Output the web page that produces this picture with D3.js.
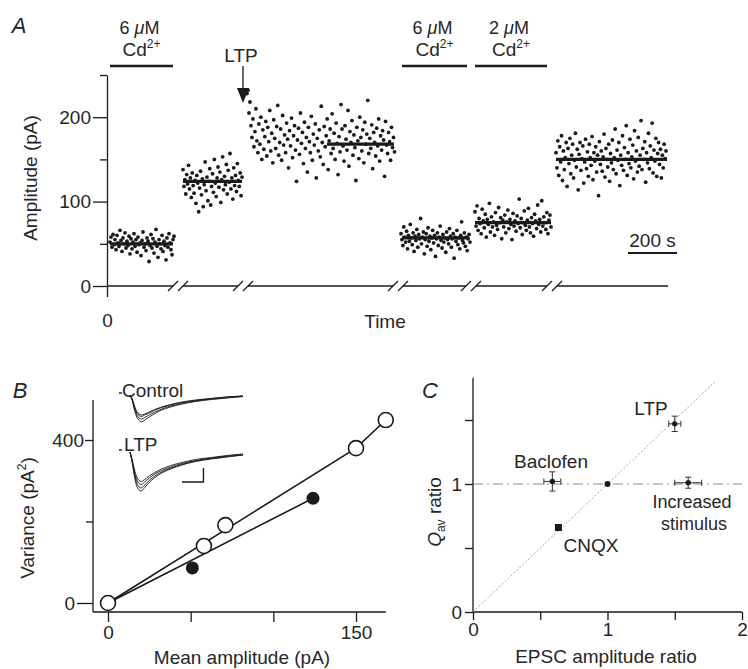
<!DOCTYPE html>
<html>
<head>
<meta charset="utf-8">
<script src="https://cdn.jsdelivr.net/npm/d3@7"></script>
<style>
  body { margin: 0; background: #fff; }
  svg { font-family: "Liberation Sans", Arial, sans-serif; }
</style>
</head>
<body>
<svg id="fig" width="748" height="669"></svg>
<script>
// ---- Panel A: EPSC amplitude against (broken) time ----
// time is in "display seconds" along the broken axis
const segStart  = [12, 304, 560, 1176, 1472, 1796];
const segEnd    = [268, 540, 1150, 1452, 1776, 2236];
const meanLevel = [50, 124, 168, 57, 75, 150];
const meanFrom  = [12, 304, 880, 1180, 1472, 1796];
const meanTo    = [264, 540, 1148, 1448, 1776, 2240];
const breakAt   = [284, 544, 1164, 1456, 1780];
const drugFrom  = [12, 1180, 1472];
const drugTo    = [264, 1440, 1760];
const drugConc  = ['6', '6', '2'];
const ltpAt     = 544;
const yTicksA   = [0, 100, 200];
const yMinorA   = [50, 150, 250];

const amp1 = [52,58,46,61,49,55,43,60,51,47,66,54,41,57,50,63,45,53,48,59,38,56,44,52,62,47,55,40,58,49,51,36,54,64,46,50,42,57,53,29,48,61,45,56,39,52,67,47,34,55,50,44,60,41,53,48,31,57,46,62,51,43,37,55,59];
const amp2 = [138,118,126,109,132,121,143,115,128,105,134,119,110,125,98,131,122,88,116,136,108,127,94,120,147,113,129,101,124,139,96,118,133,111,150,122,106,128,141,117,135,99,126,153,114,130,120,144,109,137,123,157,115,128,103,140,119,131,112,145,125,118,134,107,129];
const amp3 = [228,232,205,218,190,176,198,165,183,210,172,158,192,168,200,150,185,162,177,195,154,188,171,208,160,181,146,197,175,163,189,214,155,170,186,149,202,167,179,158,193,174,140,184,166,199,152,178,190,161,124,173,187,156,205,169,182,145,194,163,176,135,188,171,158,201,149,180,167,192,128,175,160,185,153,213,170,144,189,165,178,198,138,172,186,157,204,163,181,150,193,169,132,177,159,215,186,166,148,190,174,161,208,142,183,170,196,155,179,164,125,188,172,151,200,176,160,185,146,194,168,180,220,157,175,163,191,139,182,170,154,187,166,198,148,178,161,184,173,130,195,167,157,182,171,149,188,164,176,159];
const amp4 = [62,55,48,70,58,52,65,44,60,53,73,57,49,63,41,59,54,67,46,61,56,80,50,58,64,38,55,62,47,69,53,59,43,57,66,51,60,35,56,63,48,58,71,54,45,61,52,57,40,64,55,50,68,59,46,56,62,33,58,53,66,49,57,44,60,76,54,51,63,47,58,42,56,61,52];
const amp5 = [88,71,95,66,80,74,62,91,77,69,85,58,79,73,98,64,82,70,76,60,87,72,67,93,75,81,56,78,70,84,63,76,90,68,79,73,55,86,71,77,65,83,74,103,69,80,61,75,89,72,66,78,92,70,63,81,74,59,85,77,68,96,73,79,64,101,71,82,75,67,87,62,78,84,70];
const amp6 = [158,140,172,131,165,147,178,125,160,138,152,170,118,163,145,175,133,155,168,128,149,181,141,162,114,156,170,137,151,166,122,147,174,139,159,130,168,152,143,177,126,158,148,165,135,155,107,171,144,160,136,153,180,129,163,150,141,168,124,157,146,173,138,152,186,133,161,149,170,119,155,143,178,137,164,150,190,131,158,145,174,140,153,167,127,184,148,160,135,176,142,155,196,138,163,150,171,123,158,146,181,139,166,152,193,134,161,148,175,130,157,170,144,162,128,155,140,168,151,160];
const ampSegs = [amp1, amp2, amp3, amp4, amp5, amp6];

// ---- Panel B: variance-mean ----
const openMean = [0, 58, 71, 150, 168];
const openVar  = [0, 140, 191, 380, 449];
const fillMean = [51, 124];
const fillVar  = [86, 257];
const fitOpenX = [0, 150, 168];
const fitOpenY = [0, 380, 449];
const fitFillX = [0, 124];
const fitFillY = [0, 257];
const xTicksB = [0, 150];
const xMinorB = [50, 100];

// inset EPSC traces (arbitrary time units, pA)
const traceT = [0, 2, 4, 6, 8, 10, 13, 17, 22, 28, 36, 46, 58, 72, 86, 100];
const controlTraces = [
  [0, -10, -28, -40, -46, -48, -45, -40, -34, -28, -22, -17, -12, -8, -5, -3],
  [0, -9, -25, -36, -41, -43, -40, -36, -30, -25, -20, -15, -11, -7, -4, -2],
  [0, -11, -30, -44, -51, -54, -50, -44, -37, -30, -24, -18, -13, -9, -6, -3],
  [0, -8, -22, -33, -38, -40, -38, -34, -29, -24, -19, -14, -10, -7, -4, -2]
];
const ltpTraces = [
  [0, -20, -45, -62, -70, -72, -66, -57, -48, -40, -32, -25, -18, -13, -9, -6],
  [0, -18, -40, -56, -63, -65, -60, -52, -44, -37, -30, -23, -17, -12, -8, -5],
  [0, -22, -50, -68, -76, -78, -71, -61, -51, -42, -34, -26, -19, -14, -10, -6],
  [0, -16, -36, -50, -57, -59, -55, -48, -41, -34, -27, -21, -15, -11, -7, -4]
];

// ---- Panel C: Qav ratio vs EPSC amplitude ratio ----
const cNames = ['LTP', 'Baclofen', 'Control', 'Increased stimulus', 'CNQX'];
const cX     = [1.5, 0.59, 1.0, 1.6, 0.635];
const cY     = [1.47, 1.02, 1.0, 1.01, 0.66];
const cXerr  = [0.045, 0.063, 0, 0.1, 0.015];
const cYerr  = [0.06, 0.075, 0, 0.043, 0.015];

const ink = '#1a1a1a';
const txt = '#262626';
const FONT = '"Liberation Sans", Arial, sans-serif';
const svg = d3.select('#fig');

function styleAxis(g) {
  g.attr('font-size', 19).attr('font-family', FONT);
  g.selectAll('line, path').attr('stroke', ink).attr('stroke-width', 1.3);
  g.selectAll('text').attr('fill', txt);
}
function noDomain(g) { g.select('.domain').remove(); }

function label(g, x, y, s, opts = {}) {
  return g.append('text').attr('x', x).attr('y', y)
    .attr('text-anchor', opts.anchor || 'middle')
    .attr('font-size', opts.size || 19)
    .attr('font-style', opts.italic ? 'italic' : null)
    .attr('fill', txt)
    .text(s);
}

// ================= Panel A =================
const xA = d3.scaleLinear().domain([0, 2244]).range([107, 668]);
const yA = d3.scaleLinear().domain([0, 250]).range([286, 75]);
const gA = svg.append('g');

gA.append('g').attr('transform', 'translate(107,0)')
  .call(d3.axisLeft(yA).tickValues(yTicksA).tickSize(14).tickPadding(2).tickSizeOuter(0))
  .call(styleAxis);
gA.append('g').attr('transform', 'translate(107,0)')
  .call(d3.axisLeft(yA).tickValues(yMinorA).tickSize(7).tickFormat(''))
  .call(noDomain).call(styleAxis);
gA.append('g').attr('transform', 'translate(0,286)')
  .call(d3.axisBottom(xA).tickValues([0]).tickSize(11).tickPadding(17))
  .call(noDomain).call(styleAxis);

// broken x axis
const edges = [0];
breakAt.forEach(b => edges.push(b - 20, b + 20));
edges.push(2244);
for (let i = 0; i < edges.length; i += 2) {
  gA.append('line')
    .attr('x1', xA(edges[i])).attr('x2', xA(edges[i + 1]))
    .attr('y1', yA(0)).attr('y2', yA(0))
    .attr('stroke', ink).attr('stroke-width', 1.3);
}
breakAt.forEach(b => {
  [-20, 20].forEach(o => {
    const cx = xA(b + o);
    gA.append('line')
      .attr('x1', cx - 5).attr('y1', yA(0) + 5)
      .attr('x2', cx + 5).attr('y2', yA(0) - 5)
      .attr('stroke', ink).attr('stroke-width', 1.3);
  });
});

// points
ampSegs.forEach((vals, s) => {
  const step = (segEnd[s] - segStart[s]) / (vals.length - 1);
  gA.append('g').selectAll('circle')
    .data(vals)
    .enter()
    .append('circle')
    .attr('cx', (d, i) => xA(segStart[s] + i * step))
    .attr('cy', d => yA(d))
    .attr('r', 1.9)
    .attr('fill', ink);
  gA.append('line')
    .attr('x1', xA(meanFrom[s])).attr('x2', xA(meanTo[s]))
    .attr('y1', yA(meanLevel[s])).attr('y2', yA(meanLevel[s]))
    .attr('stroke', ink).attr('stroke-width', 3.2);
});

// drug application bars
drugConc.forEach((c, i) => {
  const cx = (xA(drugFrom[i]) + xA(drugTo[i])) / 2;
  gA.append('line')
    .attr('x1', xA(drugFrom[i])).attr('x2', xA(drugTo[i]))
    .attr('y1', 66).attr('y2', 66)
    .attr('stroke', ink).attr('stroke-width', 2.6);
  const t1 = gA.append('text').attr('x', cx - 2).attr('y', 34)
    .attr('text-anchor', 'middle').attr('font-size', 18).attr('fill', txt);
  t1.append('tspan').text(c + ' ');
  t1.append('tspan').attr('font-style', 'italic').text('μ');
  t1.append('tspan').text('M');
  const t2 = gA.append('text').attr('x', cx).attr('y', 56)
    .attr('text-anchor', 'middle').attr('font-size', 19).attr('fill', txt);
  t2.append('tspan').text('Cd');
  t2.append('tspan').attr('font-size', 12).attr('dy', -8).text('2+');
});

// LTP arrow
label(gA, xA(ltpAt) - 2, 62, 'LTP');
gA.append('line')
  .attr('x1', xA(ltpAt)).attr('x2', xA(ltpAt))
  .attr('y1', 66).attr('y2', 90)
  .attr('stroke', ink).attr('stroke-width', 1.3);
gA.append('path')
  .attr('d', `M${xA(ltpAt) - 6},88 L${xA(ltpAt) + 6},88 L${xA(ltpAt)},103 Z`)
  .attr('fill', ink);

// 200 s scale bar
gA.append('line')
  .attr('x1', xA(2084)).attr('x2', xA(2280))
  .attr('y1', 253).attr('y2', 253)
  .attr('stroke', ink).attr('stroke-width', 2);
label(gA, (xA(2084) + xA(2280)) / 2, 247, '200 s');

label(gA, 385, 328, 'Time');
label(gA, 19, 33, 'A', { italic: true, size: 22 });
label(gA, 0, 0, 'Amplitude (pA)')
  .attr('transform', 'translate(37,178) rotate(-90)');

// ================= Panel B =================
const xB = d3.scaleLinear().domain([0, 150]).range([108, 356]);
const yB = d3.scaleLinear().domain([0, 400]).range([603, 440]);
const gB = svg.append('g');

gB.append('line').attr('x1', 93).attr('x2', 93).attr('y1', yB(498)).attr('y2', 612)
  .attr('stroke', ink).attr('stroke-width', 1.3);
gB.append('line').attr('x1', 93).attr('x2', xB(168)).attr('y1', 612).attr('y2', 612)
  .attr('stroke', ink).attr('stroke-width', 1.3);
gB.append('g').attr('transform', 'translate(93,0)')
  .call(d3.axisLeft(yB).tickValues([400]).tickSize(8).tickPadding(1))
  .call(noDomain).call(styleAxis);
gB.append('g').attr('transform', 'translate(93,0)')
  .call(d3.axisLeft(yB).tickValues([0]).tickSize(16).tickPadding(2))
  .call(noDomain).call(styleAxis);
gB.append('g').attr('transform', 'translate(93,0)')
  .call(d3.axisLeft(yB).tickValues([200]).tickSize(7).tickFormat(''))
  .call(noDomain).call(styleAxis);
gB.append('g').attr('transform', 'translate(0,612)')
  .call(d3.axisBottom(xB).tickValues(xTicksB).tickSize(10).tickPadding(4))
  .call(noDomain).call(styleAxis);
gB.append('g').attr('transform', 'translate(0,612)')
  .call(d3.axisBottom(xB).tickValues(xMinorB).tickSize(10).tickFormat(''))
  .call(noDomain).call(styleAxis);

const fitLine = d3.line().x(d => xB(d[0])).y(d => yB(d[1]));
gB.append('path').attr('d', fitLine(d3.zip(fitOpenX, fitOpenY)))
  .attr('fill', 'none').attr('stroke', ink).attr('stroke-width', 1.6);
gB.append('path').attr('d', fitLine(d3.zip(fitFillX, fitFillY)))
  .attr('fill', 'none').attr('stroke', ink).attr('stroke-width', 1.6);

gB.selectAll('circle.filled')
  .data(d3.zip(fillMean, fillVar))
  .enter().append('circle').attr('class', 'filled')
  .attr('cx', d => xB(d[0])).attr('cy', d => yB(d[1]))
  .attr('r', 6.5).attr('fill', ink);
gB.selectAll('circle.open')
  .data(d3.zip(openMean, openVar))
  .enter().append('circle').attr('class', 'open')
  .attr('cx', d => xB(d[0])).attr('cy', d => yB(d[1]))
  .attr('r', 7.5).attr('fill', '#fff').attr('stroke', ink).attr('stroke-width', 1.6);

// insets
const xT = d3.scaleLinear().domain([0, 100]).range([130, 243]);
const yTc = d3.scaleLinear().domain([0, -50]).range([395, 420]);
const yTl = d3.scaleLinear().domain([0, -50]).range([452, 477]);
const traceLine = ys => d3.line().curve(d3.curveCatmullRom)
  .x((d, i) => xT(traceT[i])).y(d => ys(d));
controlTraces.forEach(tr => {
  gB.append('path').attr('d', traceLine(yTc)(tr))
    .attr('fill', 'none').attr('stroke', ink).attr('stroke-width', 0.9);
});
ltpTraces.forEach(tr => {
  gB.append('path').attr('d', traceLine(yTl)(tr))
    .attr('fill', 'none').attr('stroke', ink).attr('stroke-width', 0.9);
});
[393, 450].forEach(y => {
  gB.append('line').attr('x1', 119).attr('x2', 122).attr('y1', y).attr('y2', y)
    .attr('stroke', ink).attr('stroke-width', 1.4);
});
// scale bar
gB.append('path')
  .attr('d', `M${xT(46)},${yTl(-60)} L${xT(65)},${yTl(-60)} L${xT(65)},${yTl(-32)}`)
  .attr('fill', 'none').attr('stroke', ink).attr('stroke-width', 1.4);
label(gB, 122, 397, 'Control', { anchor: 'start' });
label(gB, 124, 451, 'LTP', { anchor: 'start' });

label(gB, 20, 398, 'B', { italic: true, size: 22 });
const vl = label(gB, 0, 0, 'Variance (pA').attr('transform', 'translate(34,518) rotate(-90)');
vl.append('tspan').attr('font-size', 12).attr('dy', -8).text('2');
vl.append('tspan').attr('dy', 8).text(')');
label(gB, 242, 664, 'Mean amplitude (pA)');

// ================= Panel C =================
const xC = d3.scaleLinear().domain([0, 2]).range([473, 742]);
const yC = d3.scaleLinear().domain([0, 1]).range([612, 484]);
const gC = svg.append('g');

gC.append('line').attr('x1', 473).attr('x2', 473).attr('y1', yC(1.83)).attr('y2', 612)
  .attr('stroke', ink).attr('stroke-width', 1.3);
gC.append('line').attr('x1', 473).attr('x2', 742).attr('y1', 612).attr('y2', 612)
  .attr('stroke', ink).attr('stroke-width', 1.3);
gC.append('g').attr('transform', 'translate(473,0)')
  .call(d3.axisLeft(yC).tickValues([0, 1]).tickSize(8).tickPadding(3).tickFormat(d3.format('d')))
  .call(noDomain).call(styleAxis);
gC.append('g').attr('transform', 'translate(473,0)')
  .call(d3.axisLeft(yC).tickValues([0.5, 1.5]).tickSize(8).tickFormat(''))
  .call(noDomain).call(styleAxis);
gC.append('g').attr('transform', 'translate(0,612)')
  .call(d3.axisBottom(xC).tickValues([0, 1, 2]).tickSize(8).tickPadding(3).tickFormat(d3.format('d')))
  .call(noDomain).call(styleAxis);
gC.append('g').attr('transform', 'translate(0,612)')
  .call(d3.axisBottom(xC).tickValues([0.5, 1.5]).tickSize(8).tickFormat(''))
  .call(noDomain).call(styleAxis);

gC.append('line').attr('x1', xC(0)).attr('y1', yC(0)).attr('x2', xC(1.8)).attr('y2', yC(1.8))
  .attr('stroke', '#9a9a9a').attr('stroke-width', 0.9).attr('stroke-dasharray', '2,2');
gC.append('line').attr('x1', xC(0)).attr('y1', yC(1)).attr('x2', xC(2)).attr('y2', yC(1))
  .attr('stroke', '#8a8a8a').attr('stroke-width', 1).attr('stroke-dasharray', '10,4,2,4');

cNames.forEach((n, i) => {
  const cx = xC(cX[i]), cy = yC(cY[i]);
  if (cXerr[i] > 0) {
    const x0 = xC(cX[i] - cXerr[i]), x1 = xC(cX[i] + cXerr[i]);
    gC.append('path').attr('d', `M${x0},${cy}H${x1}M${x0},${cy - 3}V${cy + 3}M${x1},${cy - 3}V${cy + 3}`)
      .attr('stroke', '#333').attr('stroke-width', 1).attr('fill', 'none');
  }
  if (cYerr[i] > 0) {
    const y0 = yC(cY[i] - cYerr[i]), y1 = yC(cY[i] + cYerr[i]);
    gC.append('path').attr('d', `M${cx},${y0}V${y1}M${cx - 3},${y0}H${cx + 3}M${cx - 3},${y1}H${cx + 3}`)
      .attr('stroke', '#333').attr('stroke-width', 1).attr('fill', 'none');
  }
  if (n === 'CNQX') {
    gC.append('rect').attr('x', cx - 3.5).attr('y', cy - 3.5).attr('width', 7).attr('height', 7).attr('fill', ink);
  } else {
    gC.append('circle').attr('cx', cx).attr('cy', cy).attr('r', n === 'Control' ? 3 : 2.7).attr('fill', ink);
  }
});

label(gC, 651, 415, 'LTP');
label(gC, 551, 468, 'Baclofen');
label(gC, 692, 508, 'Increased', { size: 18 });
label(gC, 694, 530, 'stimulus', { size: 18 });
label(gC, 591, 552, 'CNQX');
label(gC, 430, 398, 'C', { italic: true, size: 22 });
const ql = gC.append('text').attr('transform', 'translate(441,512) rotate(-90)')
  .attr('text-anchor', 'middle').attr('font-size', 19).attr('fill', txt);
ql.append('tspan').attr('font-style', 'italic').text('Q');
ql.append('tspan').attr('font-size', 12).attr('dy', 4).text('av');
ql.append('tspan').attr('dy', -4).text(' ratio');
label(gC, 606, 663, 'EPSC amplitude ratio');
</script>
</body>
</html>
